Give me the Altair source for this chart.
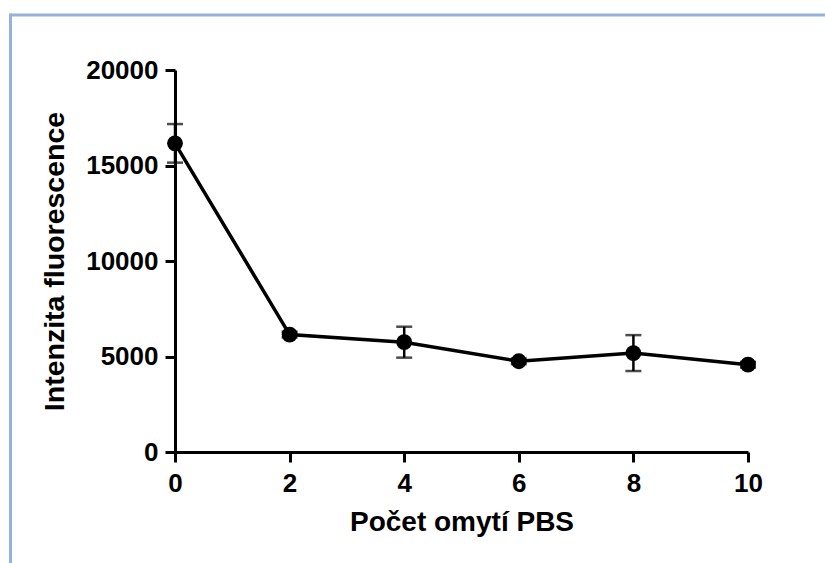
import altair as alt
import pandas as pd

# Data
washes = [0, 2, 4, 6, 8, 10]
intensity = [16160, 6150, 5750, 4750, 5180, 4570]
sd = [1010, 150, 810, 150, 940, 150]

df = pd.DataFrame({"x": washes, "y": intensity, "sd": sd})
df["lo"] = df["y"] - df["sd"]
df["hi"] = df["y"] + df["sd"]

W, H = 573, 382
FONT = "Liberation Sans"

xscale = alt.Scale(domain=[0, 10], nice=False, zero=False)
yscale = alt.Scale(domain=[0, 20000], nice=False)

xaxis = alt.Axis(
    values=[0, 2, 4, 6, 8, 10], title="Počet omytí PBS", grid=False, format="d",
    domainColor="black", domainWidth=3, tickColor="black", tickWidth=3, tickSize=10,
    labelFont=FONT, labelFontSize=26, labelFontWeight="bold", labelColor="black",
    labelPadding=8, titleFont=FONT, titleFontSize=28, titleFontWeight="bold",
    titleColor="black", titlePadding=12, labelFlush=False,
)
yaxis = alt.Axis(
    values=[0, 5000, 10000, 15000, 20000], title="Intenzita fluorescence", grid=False,
    domainColor="black", domainWidth=3, tickColor="black", tickWidth=3, tickSize=10,
    labelFont=FONT, labelFontSize=26, labelFontWeight="bold", labelColor="black",
    labelPadding=7, titleFont=FONT, titleFontSize=28.5, titleFontWeight="bold",
    titleColor="black", titlePadding=16, labelFlush=False, format="d",
)

base = alt.Chart(df)

frame_top = alt.Chart(df.head(1)).mark_rule(color="#95B3D7", strokeWidth=3).encode(
    x=alt.value(-165), x2=alt.value(650), y=alt.value(-55)
)
frame_left = alt.Chart(df.head(1)).mark_rule(color="#95B3D7", strokeWidth=3).encode(
    x=alt.value(-164.5), y=alt.value(-56.5), y2=alt.value(493)
)

err = base.mark_rule(color="black", strokeWidth=2.5).encode(
    x=alt.X("x:Q", scale=xscale, axis=xaxis),
    y=alt.Y("lo:Q", scale=yscale, axis=yaxis),
    y2="hi:Q",
)
cap_hi = base.mark_tick(color="black", orient="horizontal", size=16, thickness=2.5).encode(
    x=alt.X("x:Q", scale=xscale), y=alt.Y("hi:Q", scale=yscale)
)
cap_lo = base.mark_tick(color="black", orient="horizontal", size=16, thickness=2.5).encode(
    x=alt.X("x:Q", scale=xscale), y=alt.Y("lo:Q", scale=yscale)
)
line = base.mark_line(color="black", strokeWidth=3.5).encode(
    x=alt.X("x:Q", scale=xscale), y=alt.Y("y:Q", scale=yscale)
)
pts = base.mark_circle(color="black", size=250, opacity=1).encode(
    x=alt.X("x:Q", scale=xscale), y=alt.Y("y:Q", scale=yscale)
)

chart = alt.layer(err, cap_hi, cap_lo, line, pts, frame_top, frame_left).properties(
    width=W, height=H,
    autosize=alt.AutoSizeParams(type="none"),
    padding={"left": 175, "top": 70, "right": 77, "bottom": 111},
    background="white",
).configure_view(stroke=None)

chart.save("out.html", embed_options={"renderer": "svg", "actions": False})
